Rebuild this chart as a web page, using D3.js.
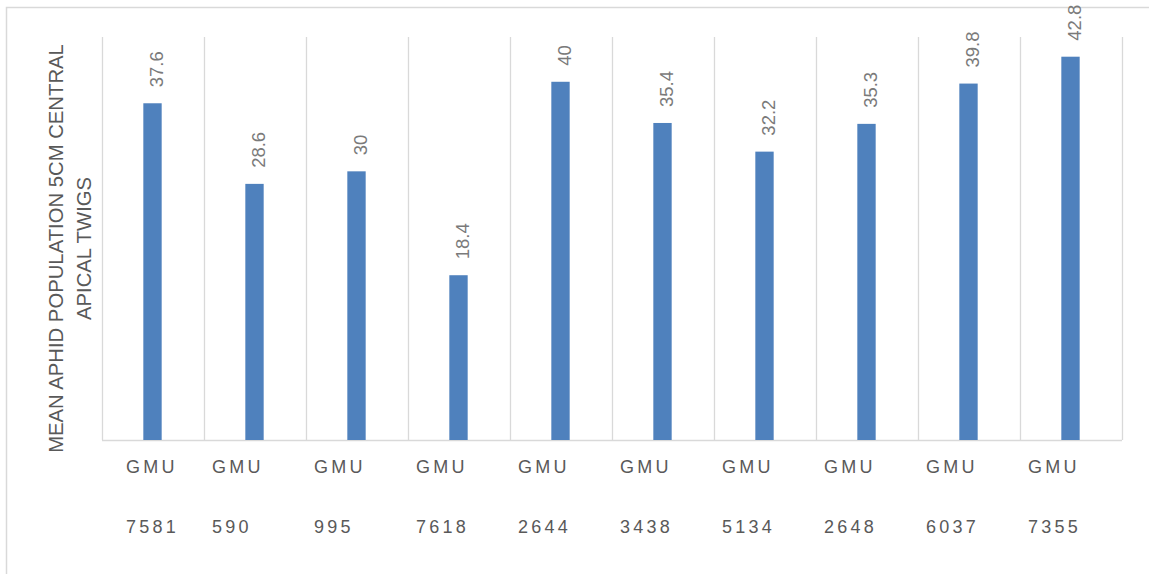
<!DOCTYPE html>
<html>
<head>
<meta charset="utf-8">
<title>Mean aphid population</title>
<script src="https://d3js.org/d3.v7.min.js"></script>
<style>
  body { margin: 0; background: #fff; }
  svg text { font-family: "Liberation Sans", Arial, sans-serif; }
  .grid line { stroke: #d9d9d9; stroke-width: 1.3; }
  .bar { fill: #4f81bd; }
  .val { fill: #7a7a7a; font-size: 18.5px; }
  .cat { fill: #595959; font-size: 18px; letter-spacing: 3.2px; }
  .ytitle { fill: #595959; font-size: 20.3px; }
</style>
</head>
<body>
<script>
// data
var genotypes = ["7581", "590", "995", "7618", "2644", "3438", "5134", "2648", "6037", "7355"];
var aphids = [37.6, 28.6, 30, 18.4, 40, 35.4, 32.2, 35.3, 39.8, 42.8];
var catPrefix = "GMU";
var titleLines = ["MEAN APHID POPULATION 5CM CENTRAL", "APICAL TWIGS"];

var W = 1149, H = 574;
var margin = {top: 37, right: 27, bottom: 134, left: 102};

var svg = d3.select("body").append("svg")
    .attr("width", W)
    .attr("height", H);

// chart border
svg.append("rect")
    .attr("x", 6.5).attr("y", 7.5)
    .attr("width", W + 10).attr("height", H + 10)
    .attr("fill", "none")
    .attr("stroke", "#d9d9d9")
    .attr("stroke-width", 1.5);

var x = d3.scaleBand()
    .domain(genotypes)
    .range([margin.left, W - margin.right])
    .paddingInner(0).paddingOuter(0);

var y = d3.scaleLinear()
    .domain([0, 45])
    .range([H - margin.bottom, margin.top]);

var g = svg.append("g");

// vertical gridlines between categories
var edges = genotypes.map(function(d) { return x(d); }).concat([x.range()[1]]);
g.append("g").attr("class", "grid")
  .selectAll("line")
  .data(edges)
  .enter().append("line")
    .attr("x1", function(d) { return Math.round(d) + 0.5; })
    .attr("x2", function(d) { return Math.round(d) + 0.5; })
    .attr("y1", y(45))
    .attr("y2", y(0));

// baseline
g.append("g").attr("class", "grid").append("line")
    .attr("x1", x.range()[0])
    .attr("x2", x.range()[1])
    .attr("y1", y(0) + 0.5)
    .attr("y2", y(0) + 0.5);

var barW = x.bandwidth() * 0.18;

g.selectAll(".bar")
  .data(aphids)
  .enter().append("rect")
    .attr("class", "bar")
    .attr("x", function(d, i) { return x(genotypes[i]) + x.bandwidth() / 2 - barW / 2 - 0.5; })
    .attr("y", function(d) { return y(d); })
    .attr("width", barW)
    .attr("height", function(d) { return y(0) - y(d); });

// rotated value labels
g.selectAll(".val")
  .data(aphids)
  .enter().append("text")
    .attr("class", "val")
    .attr("transform", function(d, i) {
      var cx = x(genotypes[i]) + x.bandwidth() / 2;
      return "translate(" + (cx + 10) + "," + (y(d) - 16) + ") rotate(-90)";
    })
    .text(function(d) { return d; });

// category labels, two lines, left aligned within each band
var cats = g.selectAll(".catg")
  .data(genotypes)
  .enter().append("g")
    .attr("transform", function(d, i) {
      // first label carries extra indent in the original
      var indent = i === 0 ? 24 : 8;
      return "translate(" + (x(d) + indent) + ",0)";
    });

cats.append("text")
    .attr("class", "cat")
    .attr("y", 473)
    .text(catPrefix);

cats.append("text")
    .attr("class", "cat")
    .attr("y", 533)
    .text(function(d) { return d; });

// y axis title
var titleY = (y(0) + y(45)) / 2 + 10;
svg.append("g")
    .attr("transform", "translate(0," + titleY + ")")
  .selectAll("text")
  .data(titleLines)
  .enter().append("text")
    .attr("class", "ytitle")
    .attr("text-anchor", "middle")
    .attr("transform", function(d, i) { return "translate(" + (63 + i * 28) + ",0) rotate(-90)"; })
    .text(function(d) { return d; });
</script>
</body>
</html>
